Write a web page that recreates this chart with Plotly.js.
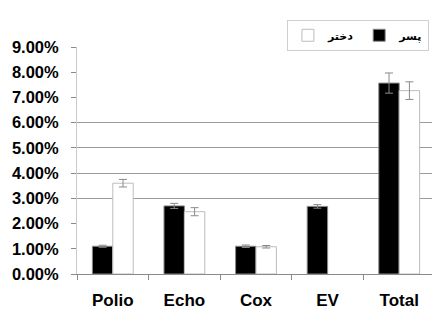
<!DOCTYPE html>
<html>
<head>
<meta charset="utf-8">
<script src="https://cdn.plot.ly/plotly-3.0.1.min.js"></script>
<style>
html,body{margin:0;padding:0;overflow:hidden;background:#fff;}
#chart{width:440px;height:309px;}
</style>
</head>
<body>
<div id="chart"></div>
<script>
// Data (percent)
var categories = ["Polio", "Echo", "Cox", "EV", "Total"];
var boysName = "پسر";
var girlsName = "دختر";
var boysValues = [1.1, 2.7, 1.1, 2.68, 7.57];
var boysErrors = [0.04, 0.1, 0.05, 0.07, 0.4];
var girlsValues = [3.6, 2.47, 1.08, null, 7.27];
var girlsErrors = [0.15, 0.16, 0.05, 0, 0.35];
var yTickVals = [0, 1, 2, 3, 4, 5, 6, 7, 8, 9];
var yTickText = ["0.00%", "1.00%", "2.00%", "3.00%", "4.00%", "5.00%", "6.00%", "7.00%", "8.00%", "9.00%"];
var gridVals = [3, 4, 5, 6, 9];

var font = {family: "Arial, 'Liberation Sans', 'DejaVu Sans', sans-serif", color: "#000", weight: 700};

var traces = [
  {
    type: "bar", name: boysName, x: categories, y: boysValues,
    marker: {color: "#000000", line: {color: "#8a8a8a", width: 1}},
    error_y: {type: "data", array: boysErrors, visible: true, color: "#8a8a8a", thickness: 1, width: 4}
  },
  {
    type: "bar", name: girlsName, x: categories, y: girlsValues,
    marker: {color: "#ffffff", line: {color: "#bdbdbd", width: 1}},
    error_y: {type: "data", array: girlsErrors, visible: true, color: "#8a8a8a", thickness: 1, width: 4}
  },
  {
    // carrier for the partial gridline axis (no visible marks)
    type: "scatter", mode: "markers", x: [], y: [], yaxis: "y2",
    showlegend: false, hoverinfo: "skip"
  }
];

var layout = {
  width: 440, height: 309,
  margin: {l: 77, r: 5, t: 47, b: 35},
  paper_bgcolor: "#fff", plot_bgcolor: "#fff",
  font: font,
  barmode: "group", bargap: 0.43, bargroupgap: 0,
  showlegend: true,
  legend: {
    orientation: "h", traceorder: "reversed",
    x: 0.983, xanchor: "right", y: 1.12, yanchor: "top",
    bgcolor: "#fff", bordercolor: "#cfcfcf", borderwidth: 1,
    font: {family: "Arial, 'DejaVu Sans', sans-serif", size: 11, color: "#000", weight: 700},
    itemwidth: 30
  },
  xaxis: {
    type: "category", tickson: "boundaries", ticks: "outside", ticklen: 5, tickcolor: "#8a8a8a",
    showline: true, linecolor: "#8a8a8a", linewidth: 1, showgrid: false,
    tickfont: {size: 17, weight: 700, family: "Arial, 'Liberation Sans', sans-serif", color: "#000"},
    ticklabelstandoff: 11
  },
  yaxis: {
    range: [0, 9], tickmode: "array", tickvals: yTickVals, ticktext: yTickText,
    ticks: "outside", ticklen: 5, tickcolor: "#8a8a8a",
    showline: true, linecolor: "#cccccc", linewidth: 1, showgrid: false, zeroline: false,
    tickfont: {size: 16.5, weight: 700, family: "Arial, 'Liberation Sans', sans-serif", color: "#000"},
    ticklabelstandoff: 9
  },
  yaxis2: {
    overlaying: "y", anchor: "x", side: "left", range: [0, 9], tickmode: "array", tickvals: gridVals,
    showgrid: true, gridcolor: "#9a9a9a", gridwidth: 1,
    showticklabels: false, ticks: "", showline: false, zeroline: false
  }
};

Plotly.newPlot("chart", traces, layout, {displayModeBar: false, staticPlot: true});
</script>
</body>
</html>
